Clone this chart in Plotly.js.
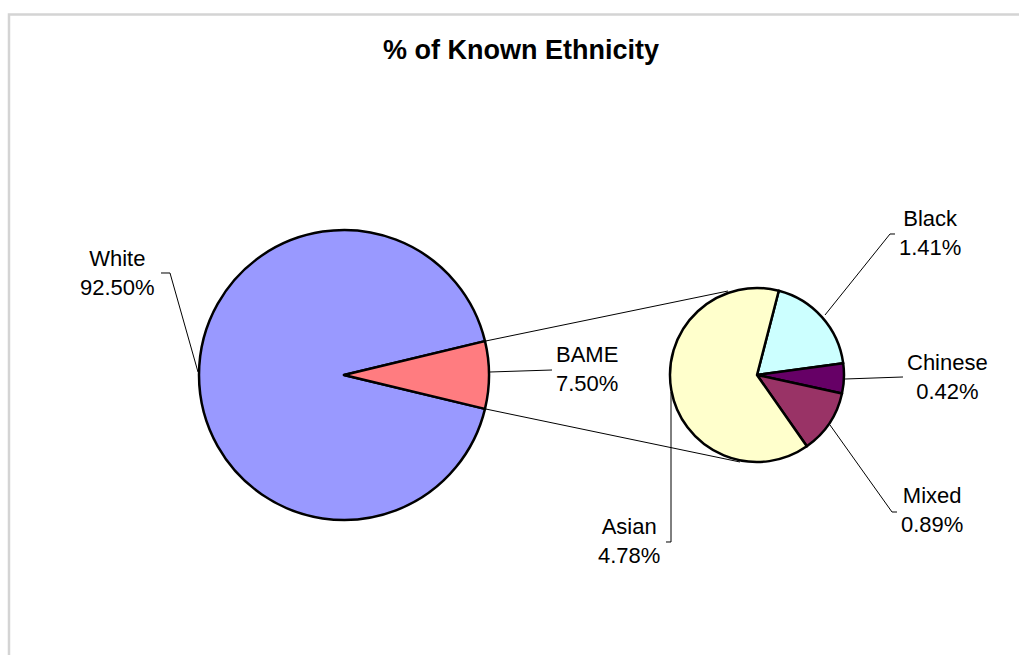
<!DOCTYPE html>
<html>
<head>
<meta charset="utf-8">
<script src="https://cdn.plot.ly/plotly-3.0.1.min.js"></script>
<style>html,body{margin:0;padding:0;background:#fff;}#chart{width:1019px;height:655px;}</style>
</head>
<body>
<div id="chart"></div>
<script>
// ---- data ----
var mainLabels = ['White', 'BAME'];
var mainValues = [92.50, 7.50];
var subLabels = ['Black', 'Chinese', 'Mixed', 'Asian'];
var subValues = [1.41, 0.42, 0.89, 4.78];

// ---- styling ----
var W = 1019, H = 655;
var mainColors = ['#9999FF', '#FF7C80'];
var subColors = ['#CCFFFF', '#660066', '#993366', '#FFFFCC'];
var FONT = 'Arial, "Liberation Sans", sans-serif';

// geometry (pixels)
var mainC = [344, 375], mainR = 145;
var subC = [757, 375], subR = 87;

function px(x, y) { return (x / W).toFixed(5) + ',' + (1 - y / H).toFixed(5); }
function pathOf(pts) { return pts.map(function (p, i) { return (i ? 'L' : 'M') + px(p[0], p[1]); }).join(' '); }
function domainOf(c, r) { return {x: [(c[0] - r) / W, (c[0] + r) / W], y: [1 - (c[1] + r) / H, 1 - (c[1] - r) / H]}; }

var bameFrac = mainValues[1] / (mainValues[0] + mainValues[1]);
var halfAng = 180 * bameFrac;
var mainRotation = 90 + halfAng; // White starts at the lower edge of BAME

var traces = [
  {
    type: 'pie', labels: mainLabels, values: mainValues, sort: false,
    direction: 'clockwise', rotation: mainRotation,
    marker: {colors: mainColors, line: {color: '#000', width: 2.5}},
    textinfo: 'none', domain: domainOf(mainC, mainR), showlegend: false
  },
  {
    type: 'pie', labels: subLabels, values: subValues, sort: false,
    direction: 'clockwise', rotation: 14.5,
    marker: {colors: subColors, line: {color: '#000', width: 2.5}},
    textinfo: 'none', domain: domainOf(subC, subR), showlegend: false
  }
];

// connector lines from BAME corners to the secondary pie
function onMain(deg) {
  var a = deg * Math.PI / 180;
  return [mainC[0] + mainR * Math.sin(a), mainC[1] - mainR * Math.cos(a)];
}
var upper = onMain(90 - halfAng), lower = onMain(90 + halfAng);

var shapes = [];
function addPath(pts, color, width) {
  shapes.push({type: 'path', xref: 'paper', yref: 'paper', path: pathOf(pts),
    line: {color: color || '#000', width: width || 1}, layer: 'above'});
}
// chart frame
addPath([[9, 655], [9, 14.5], [1019, 14.5]], '#d4d4d4', 2.5);
// connectors
addPath([upper, [728, 291]], '#000', 1);
addPath([lower, [740, 462]], '#000', 1);

// leader lines for labels
var leaders = {
  'White':   [[198, 372], [170, 273], [161, 273]],
  'BAME':    [[490, 372], [552, 370]],
  'Black':   [[825, 315], [890, 234], [895, 234]],
  'Chinese': [[845, 379], [903, 377]],
  'Mixed':   [[830, 425], [892, 512], [897, 512]],
  'Asian':   [[671, 392], [671, 542], [666, 542]]
};
var labelPos = {
  'White': [117, 273], 'BAME': [587, 369], 'Black': [930, 233],
  'Chinese': [947, 377], 'Mixed': [932, 510], 'Asian': [629, 541]
};

var annotations = [];
function addLabel(name, val) {
  addPath(leaders[name], '#000', 1);
  var p = labelPos[name];
  annotations.push({
    xref: 'paper', yref: 'paper', x: p[0] / W, y: 1 - p[1] / H,
    xanchor: 'center', yanchor: 'middle', showarrow: false, align: 'center',
    text: name + '<br>' + val.toFixed(2) + '%',
    font: {family: FONT, size: 22, color: '#000'}
  });
}
mainLabels.forEach(function (n, i) { addLabel(n, mainValues[i]); });
subLabels.forEach(function (n, i) { addLabel(n, subValues[i]); });

var layout = {
  width: W, height: H,
  margin: {l: 0, r: 0, t: 0, b: 0},
  paper_bgcolor: '#fff', plot_bgcolor: '#fff',
  title: {
    text: '<b>% of Known Ethnicity</b>',
    x: 521 / W, xanchor: 'center', xref: 'paper',
    y: 1 - 50 / H, yanchor: 'middle', yref: 'container',
    font: {family: FONT, size: 27, color: '#000'}
  },
  shapes: shapes,
  annotations: annotations,
  showlegend: false
};

Plotly.newPlot('chart', traces, layout, {displayModeBar: false, staticPlot: true});
</script>
</body>
</html>
